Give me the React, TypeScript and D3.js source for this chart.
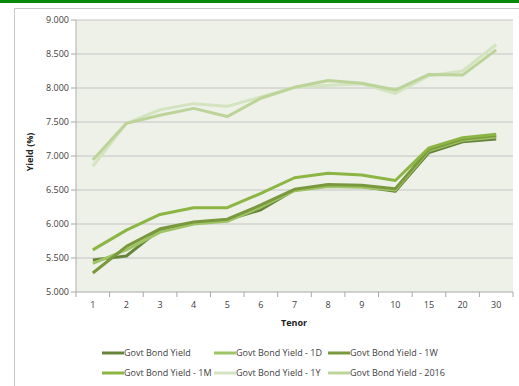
import * as d3 from 'd3';

// Chart data
const tenors = ['1', '2', '3', '4', '5', '6', '7', '8', '9', '10', '15', '20', '30'];
const govtBondYield = [5.47, 5.53, 5.92, 6.02, 6.06, 6.21, 6.5, 6.56, 6.55, 6.48, 7.05, 7.21, 7.25];
const yield1D = [5.42, 5.62, 5.88, 6.0, 6.04, 6.25, 6.49, 6.55, 6.54, 6.5, 7.08, 7.23, 7.28];
const yield1W = [5.28, 5.67, 5.93, 6.03, 6.07, 6.28, 6.51, 6.58, 6.57, 6.52, 7.1, 7.25, 7.3];
const yield1M = [5.62, 5.91, 6.14, 6.24, 6.24, 6.45, 6.68, 6.745, 6.72, 6.64, 7.12, 7.27, 7.32];
const yield1Y = [6.85, 7.48, 7.68, 7.77, 7.73, 7.87, 8.01, 8.04, 8.06, 7.92, 8.18, 8.25, 8.64];
const yield2016 = [6.94, 7.48, 7.6, 7.7, 7.58, 7.85, 8.01, 8.11, 8.07, 7.97, 8.2, 8.19, 8.56];
const yTicks = [5, 5.5, 6, 6.5, 7, 7.5, 8, 8.5, 9];

const seriesNames = [
  'Govt Bond Yield',
  'Govt Bond Yield - 1D',
  'Govt Bond Yield - 1W',
  'Govt Bond Yield - 1M',
  'Govt Bond Yield - 1Y',
  'Govt Bond Yield - 2016',
];
const seriesValues = [govtBondYield, yield1D, yield1W, yield1M, yield1Y, yield2016];
const colors = ['#67853a', '#9fc465', '#7a983d', '#8db545', '#d4e3c0', '#bcd39a'];

const App = () => {
  const width = 519;
  const height = 386;
  const margin = { top: 20, right: 6, bottom: 94, left: 76 };
  const plotW = width - margin.left - margin.right;
  const plotH = height - margin.top - margin.bottom;

  const x = d3.scaleBand().domain(tenors).range([0, plotW]);
  const y = d3.scaleLinear().domain([5, 9]).range([plotH, 0]);

  const line = d3
    .line<number>()
    .x((_, i) => x(tenors[i])! + x.bandwidth() / 2)
    .y((d) => y(d));

  const font = "'Open Sans', 'Liberation Sans', sans-serif";

  return (
    <svg
      width={width}
      height={height}
      style={{ position: 'absolute', left: 0, top: 0, background: '#fff' }}
      fontFamily={font}
    >
      {/* green header bar */}
      <rect x={0} y={0} width={width} height={3} fill="#0a8a0a" />
      {/* chart border */}
      <path d={`M14.5,${height} V8.5 H${width}`} fill="none" stroke="#c8c8c8" />

      <g transform={`translate(${margin.left},${margin.top})`}>
        <rect x={0} y={0} width={plotW} height={plotH} fill="#eef1e8" />

        {/* gridlines and y ticks */}
        {yTicks.map((t) => (
          <g key={t} transform={`translate(0,${y(t)})`}>
            {t > 5 && <line x1={0} x2={plotW} stroke="#c4c4c4" strokeWidth={1} />}
            <line x1={-5} x2={0} stroke="#a8a8a8" />
            <text x={-7} dy="0.35em" textAnchor="end" fontSize={9} fill="#404040">
              {d3.format('.3f')(t)}
            </text>
          </g>
        ))}
        <line x1={0} x2={0} y1={0} y2={plotH} stroke="#b0b0b0" />

        {/* x axis */}
        <line x1={0} x2={plotW} y1={plotH} y2={plotH} stroke="#a8a8a8" />
        {tenors.map((t) => (
          <g key={t}>
            <line x1={x(t)!} x2={x(t)!} y1={plotH} y2={plotH + 5} stroke="#a8a8a8" />
            <text
              x={x(t)! + x.bandwidth() / 2}
              y={plotH + 16}
              textAnchor="middle"
              fontSize={9}
              fill="#404040"
            >
              {t}
            </text>
          </g>
        ))}
        <line x1={plotW} x2={plotW} y1={plotH} y2={plotH + 5} stroke="#a8a8a8" />

        {/* series lines */}
        {[4, 5, 0, 1, 2, 3].map((k) => (
          <path
            key={seriesNames[k]}
            d={line(seriesValues[k])!}
            fill="none"
            stroke={colors[k]}
            strokeWidth={3}
            strokeLinejoin="round"
          />
        ))}
      </g>

      {/* axis titles */}
      <text
        transform="translate(33,152) rotate(-90)"
        textAnchor="middle"
        fontSize={9}
        fontWeight="bold"
        fill="#202020"
      >
        Yield (%)
      </text>
      <text x={294} y={326} textAnchor="middle" fontSize={9} fontWeight="bold" fill="#202020">
        Tenor
      </text>

      {/* legend */}
      {seriesNames.map((name, i) => {
        const col = i % 3;
        const row = Math.floor(i / 3);
        const lx = [102, 214, 328][col];
        const ly = 353 + row * 20;
        return (
          <g key={name} transform={`translate(${lx},${ly})`}>
            <line x1={0} x2={22} stroke={colors[i]} strokeWidth={3} />
            <text x={22} dy="0.35em" fontSize={9} fill="#404040">
              {name}
            </text>
          </g>
        );
      })}
    </svg>
  );
};

export default App;
